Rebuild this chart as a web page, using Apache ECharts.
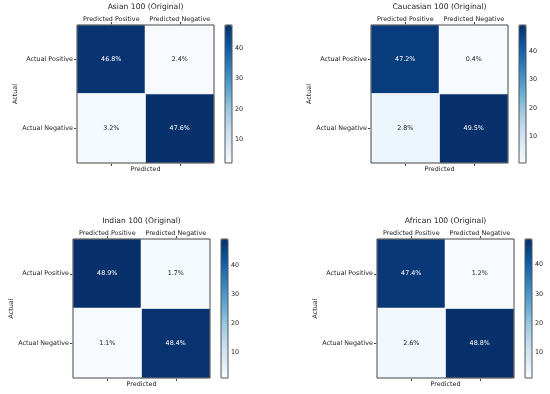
<!DOCTYPE html>
<html>
<head>
<meta charset="utf-8">
<script src="https://cdn.jsdelivr.net/npm/echarts@6/dist/echarts.min.js"></script>
<style>html,body{margin:0;padding:0;background:#fff;}#c{width:550px;height:394px;}</style>
</head>
<body>
<div id="c"></div>
<script>
const titles = ['Asian 100 (Original)', 'Caucasian 100 (Original)', 'Indian 100 (Original)', 'African 100 (Original)'];
const predictedCats = ['Predicted Positive', 'Predicted Negative'];
const actualCats = ['Actual Positive', 'Actual Negative'];
// rows: actual, cols: predicted (percent)
const asianValues = [[46.8, 2.4], [3.2, 47.6]];
const caucasianValues = [[47.2, 0.4], [2.8, 49.5]];
const indianValues = [[48.9, 1.7], [1.1, 48.4]];
const africanValues = [[47.4, 1.2], [2.6, 48.8]];
const colorbarTicks = [10, 20, 30, 40];

const matrices = [asianValues, caucasianValues, indianValues, africanValues];
const layout = [
  {gl: 77, gt: 25, gw: 137, gh: 138, cl: 225},
  {gl: 371, gt: 25, gw: 137, gh: 138, cl: 519},
  {gl: 73, gt: 239, gw: 137, gh: 139, cl: 221},
  {gl: 377, gt: 239, gw: 137, gh: 139, cl: 525}
];
const blues = ['#f7fbff','#deebf7','#c6dbef','#9ecae1','#6baed6','#4292c6','#2171b5','#08519c','#08306b'];
const FONT = 'DejaVu Sans';
const TXT = '#222';
const FS = 6.4;

const option = {
  backgroundColor: '#fff',
  animation: false,
  title: [], grid: [], xAxis: [], yAxis: [], series: [], visualMap: []
};

matrices.forEach((m, i) => {
  const L = layout[i];
  const flat = m.flat();
  const vmin = Math.min(...flat), vmax = Math.max(...flat);
  const thresh = vmax / 2;
  const data = [];
  m.forEach((row, r) => row.forEach((v, c) => {
    data.push({value: [c, r, v], label: {color: v > thresh ? '#fff' : TXT}});
  }));
  option.title.push({
    text: titles[i], left: L.gl + L.gw / 2, top: L.gt - 22, textAlign: 'center', padding: 0,
    textStyle: {fontFamily: FONT, fontSize: 7.6, fontWeight: 'normal', color: TXT}
  });
  option.grid.push({left: L.gl, top: L.gt, width: L.gw, height: L.gh, show: true, borderColor: '#444', borderWidth: 1, z: 3, backgroundColor: 'transparent'});
  option.grid.push({left: L.cl, top: L.gt, width: 7, height: L.gh, show: true, borderColor: '#555', borderWidth: 1, z: 5, backgroundColor: 'transparent'});
  const gH = 2 * i, gC = 2 * i + 1;
  option.xAxis.push({
    type: 'category', gridIndex: gH, position: 'top', data: predictedCats,
    axisLine: {show: false},
    axisTick: {show: true, interval: 0, alignWithLabel: true, length: 3, lineStyle: {color: '#444'}},
    axisLabel: {interval: 0, fontFamily: FONT, fontSize: FS, color: TXT, margin: 3},
    splitLine: {show: false}
  });
  option.xAxis.push({
    type: 'category', gridIndex: gH, position: 'bottom', data: predictedCats,
    name: 'Predicted', nameLocation: 'middle', nameGap: 3,
    nameTextStyle: {fontFamily: FONT, fontSize: FS, color: TXT},
    axisLine: {show: false},
    axisTick: {show: true, interval: 0, alignWithLabel: true, length: 3, lineStyle: {color: '#444'}},
    axisLabel: {show: false, interval: 0},
    splitLine: {show: false}
  });
  option.xAxis.push({type: 'value', gridIndex: gC, show: false, min: 0, max: 1});
  option.yAxis.push({
    type: 'category', gridIndex: gH, data: actualCats, inverse: true,
    name: 'Actual', nameLocation: 'middle', nameGap: 59, nameRotate: 90,
    nameTextStyle: {fontFamily: FONT, fontSize: FS, color: TXT},
    axisLine: {show: false},
    axisTick: {show: true, interval: 0, alignWithLabel: true, length: 3, lineStyle: {color: '#444'}},
    axisLabel: {interval: 0, fontFamily: FONT, fontSize: FS, color: TXT, margin: 4},
    splitLine: {show: false}
  });
  option.yAxis.push({
    type: 'value', gridIndex: gC, position: 'right', min: vmin, max: vmax,
    axisLine: {show: false},
    axisTick: {show: true, length: 2.5, customValues: colorbarTicks, lineStyle: {color: '#444'}},
    axisLabel: {fontFamily: FONT, fontSize: FS, color: TXT, margin: 3, customValues: colorbarTicks},
    splitLine: {show: false}
  });
  const xTop = option.xAxis.length - 3;
  const yH = option.yAxis.length - 2;
  option.series.push({
    type: 'heatmap', xAxisIndex: xTop, yAxisIndex: yH, data: data,
    itemStyle: {borderColor: '#fff', borderWidth: 1},
    label: {show: true, fontFamily: FONT, fontSize: FS, formatter: p => p.value[2].toFixed(1) + '%'},
    emphasis: {disabled: true}
  });
  option.visualMap.push({
    type: 'continuous', seriesIndex: i, dimension: 2, min: vmin, max: vmax,
    calculable: false, hoverLink: false, realtime: false,
    left: L.cl, top: L.gt, itemWidth: 7, itemHeight: L.gh, padding: 0,
    text: null, showLabel: false,
    inRange: {color: blues}
  });
});

const chart = echarts.init(document.getElementById('c'), null, {renderer: 'canvas'});
chart.setOption(option);
</script>
</body>
</html>
